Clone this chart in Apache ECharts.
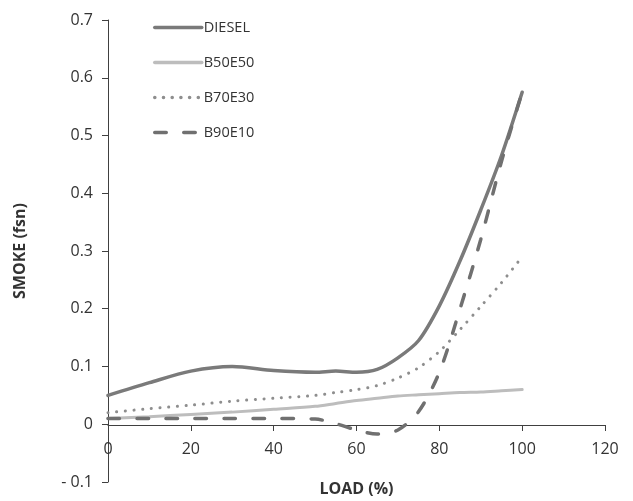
<!DOCTYPE html>
<html>
<head>
<meta charset="utf-8">
<script src="https://cdn.jsdelivr.net/npm/echarts@6/dist/echarts.min.js"></script>
<style>html,body{margin:0;padding:0;background:#fff}#c{width:633px;height:501px}</style>
</head>
<body>
<div id="c"></div>
<script>
var loadX = [0, 10, 20, 30, 40, 50, 55, 60, 65, 70, 75, 80, 85, 90, 95, 100];
var diesel = [0.05, 0.072, 0.092, 0.1, 0.093, 0.09, 0.092, 0.09, 0.095, 0.115, 0.145, 0.205, 0.283, 0.371, 0.465, 0.575];
var b50e50 = [0.01, 0.013, 0.017, 0.021, 0.026, 0.031, 0.036, 0.041, 0.045, 0.049, 0.051, 0.053, 0.055, 0.056, 0.058, 0.06];
var b70e30 = [0.02, 0.027, 0.033, 0.04, 0.045, 0.05, 0.055, 0.06, 0.067, 0.08, 0.098, 0.126, 0.164, 0.204, 0.245, 0.29];
var b90e10 = [0.01, 0.01, 0.01, 0.01, 0.01, 0.009, 0.001, -0.01, -0.017, -0.01, 0.022, 0.09, 0.2, 0.32, 0.455, 0.575];
var seriesNames = ['DIESEL', 'B50E50', 'B70E30', 'B90E10'];

function pairs(v) { return loadX.map(function (x, i) { return [x, v[i]]; }); }

var font = '"Open Sans", Lato, sans-serif';
var chart = echarts.init(document.getElementById('c'), null, {renderer: 'canvas'});
chart.setOption({
  animation: false,
  textStyle: {fontFamily: font},
  grid: {left: 108, right: 28, top: 20, bottom: 19, containLabel: false, outerBoundsMode: 'none'},
  legend: {
    orient: 'vertical', left: 148, top: 15, itemWidth: 47, itemHeight: 14, itemGap: 20,
    itemStyle: {opacity: 0},
    lineStyle: {width: 3.5},
    textStyle: {fontFamily: font, fontSize: 14.5, color: '#333', padding: [0, 0, 0, -3]},
    data: seriesNames
  },
  xAxis: {
    type: 'value', min: 0, max: 120, interval: 20,
    position: 'bottom', offset: -57,
    name: 'LOAD (%)', nameLocation: 'middle', nameGap: 56,
    nameTextStyle: {fontFamily: font, fontSize: 16, fontWeight: 'bold', color: '#333'},
    axisLine: {onZero: false, lineStyle: {color: '#404040', width: 1}},
    axisTick: {show: true, inside: false, length: 6, lineStyle: {color: '#404040'}},
    axisLabel: {margin: 16, fontSize: 16, color: '#333', fontFamily: font},
    splitLine: {show: false}
  },
  yAxis: {
    type: 'value', min: -0.1, max: 0.7, interval: 0.1,
    name: 'SMOKE (fsn)', nameLocation: 'middle', nameGap: 80,
    nameTextStyle: {fontFamily: font, fontSize: 16, fontWeight: 'bold', color: '#333'},
    axisLine: {show: true, onZero: false, lineStyle: {color: '#404040', width: 1}},
    axisTick: {show: true, length: 6, lineStyle: {color: '#404040'}},
    axisLabel: {
      margin: 15, fontSize: 16, color: '#333', fontFamily: font,
      formatter: function (v) {
        var r = Math.round(v * 10) / 10;
        if (r === 0) return '0';
        if (r < 0) return '- ' + Math.abs(r).toFixed(1);
        return r.toFixed(1);
      }
    },
    splitLine: {show: false}
  },
  series: [
    {name: 'DIESEL', type: 'line', smooth: 0.3, symbol: 'none', data: pairs(diesel),
      lineStyle: {color: '#7a7a7a', width: 3.5, cap: 'round'}, itemStyle: {color: '#7a7a7a'}, z: 4},
    {name: 'B50E50', type: 'line', smooth: 0.3, symbol: 'none', data: pairs(b50e50),
      lineStyle: {color: '#bdbdbd', width: 3, cap: 'round'}, itemStyle: {color: '#bdbdbd'}, z: 2},
    {name: 'B70E30', type: 'line', smooth: 0.3, symbol: 'none', data: pairs(b70e30),
      lineStyle: {color: '#8e8e8e', width: 3, type: [0.1, 8.6], cap: 'round'}, itemStyle: {color: '#8e8e8e'}, z: 3},
    {name: 'B90E10', type: 'line', smooth: 0.3, symbol: 'none', data: pairs(b90e10),
      lineStyle: {color: '#707070', width: 3.5, type: [11.5, 17.5], cap: 'round'}, itemStyle: {color: '#707070'}, z: 5}
  ]
});
</script>
</body>
</html>
